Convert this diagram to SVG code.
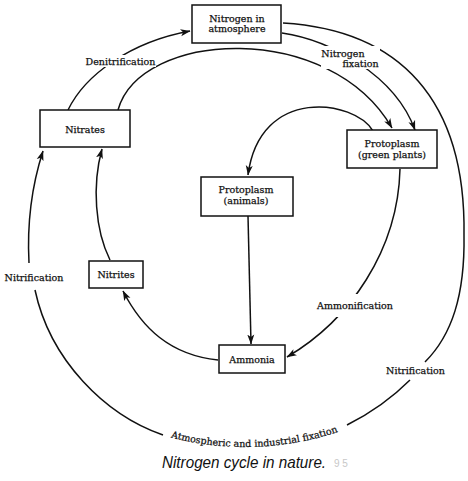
<svg xmlns="http://www.w3.org/2000/svg" width="468" height="481" viewBox="0 0 468 481">
<style>
.box{fill:#fff;stroke:#111;stroke-width:1.5}
.ln{fill:none;stroke:#111;stroke-width:1.5}
.t{font-family:"DejaVu Serif","Liberation Serif",serif;font-size:9.5px;fill:#111;stroke:#111;stroke-width:0.25;text-anchor:middle}
.bg{fill:#fff}
</style>
<defs>
<marker id="arr" markerUnits="userSpaceOnUse" markerWidth="10" markerHeight="8" refX="9.5" refY="4" orient="auto">
<path d="M0,0.5 L10,4 L0,7.5 L2.5,4 Z" fill="#111"/>
</marker>
<path id="bottomArc" d="M150,431.3 A296,296 0 0 0 360,423.7"/>
</defs>
<rect width="468" height="481" fill="#fff"/>
<g id="connectors">
<path class="ln" d="M68,110 C85,75 130,42 190,31" marker-end="url(#arr)"/>
<path class="ln" d="M118,110 C140,30 330,20 392,128" marker-end="url(#arr)"/>
<path class="ln" d="M282,33 C330,40 395,75 415,130" marker-end="url(#arr)"/>
<path class="ln" d="M373,131 C355,100 260,85 248,175" marker-end="url(#arr)"/>
<path class="ln" d="M400,169 C398,250 350,320 287,357" marker-end="url(#arr)"/>
<path class="ln" d="M248,216 L251,344" marker-end="url(#arr)"/>
<path class="ln" d="M218,360 C170,355 142,328 123,291" marker-end="url(#arr)"/>
<path class="ln" d="M110,260 C95,230 92,185 102,149" marker-end="url(#arr)"/>
<path class="ln" d="M283,23 C400,30 466,100 464,235 C465,295 452,335 425,362"/>
<path class="ln" d="M410,380 Q383,407 347,425"/>
<path class="ln" d="M163,435 C105,415 50,360 35,290"/>
<path class="ln" d="M29,263 C27,225 32,185 43,151" marker-end="url(#arr)"/>
<rect class="bg" x="86" y="55" width="70" height="12"/>
<text class="t" x="120.5" y="64.5">Denitrification</text>
<rect class="bg" x="321" y="46" width="59" height="23"/>
<text class="t" x="343" y="56.5">Nitrogen</text>
<text class="t" x="360.5" y="67">fixation</text>
<rect class="bg" x="315" y="294" width="80" height="23"/>
<text class="t" x="355" y="309">Ammonification</text>
<text class="t" x="415.5" y="374">Nitrification</text>
<text class="t" x="34" y="281">Nitrification</text>
<text class="t" style="text-anchor:start"><textPath href="#bottomArc" startOffset="21.7" textLength="169.5" lengthAdjust="spacingAndGlyphs">Atmospheric and industrial fixation</textPath></text>
</g>
<g id="nitrogen-atmosphere">
<rect class="box" x="192" y="5" width="89" height="38"/>
<text class="t" x="237" y="21.5">Nitrogen in</text>
<text class="t" x="237" y="32">atmosphere</text>
</g>
<g id="nitrates">
<rect class="box" x="40" y="110" width="90" height="37"/>
<text class="t" x="85" y="132.5">Nitrates</text>
</g>
<g id="protoplasm-green-plants">
<rect class="box" x="347" y="130" width="90" height="38"/>
<text class="t" x="392" y="146.5">Protoplasm</text>
<text class="t" x="392" y="157.5">(green plants)</text>
</g>
<g id="protoplasm-animals">
<rect class="box" x="201" y="177" width="92" height="39"/>
<text class="t" x="246" y="193">Protoplasm</text>
<text class="t" x="246" y="204">(animals)</text>
</g>
<g id="nitrites">
<rect class="box" x="89" y="261" width="54" height="27"/>
<text class="t" x="116" y="278">Nitrites</text>
</g>
<g id="ammonia">
<rect class="box" x="219" y="345" width="66" height="28"/>
<text class="t" x="252" y="362.5">Ammonia</text>
</g>
<g id="caption">
<text transform="translate(162,468) scale(0.896,1)" x="0" y="0" font-family="Liberation Sans, Arial, sans-serif" font-style="italic" font-size="17" fill="#111">Nitrogen cycle in nature.</text>
<text x="334" y="467" font-family="Liberation Sans, Arial, sans-serif" font-size="10" fill="#c8c8c8">9 5</text>
</g>
</svg>
